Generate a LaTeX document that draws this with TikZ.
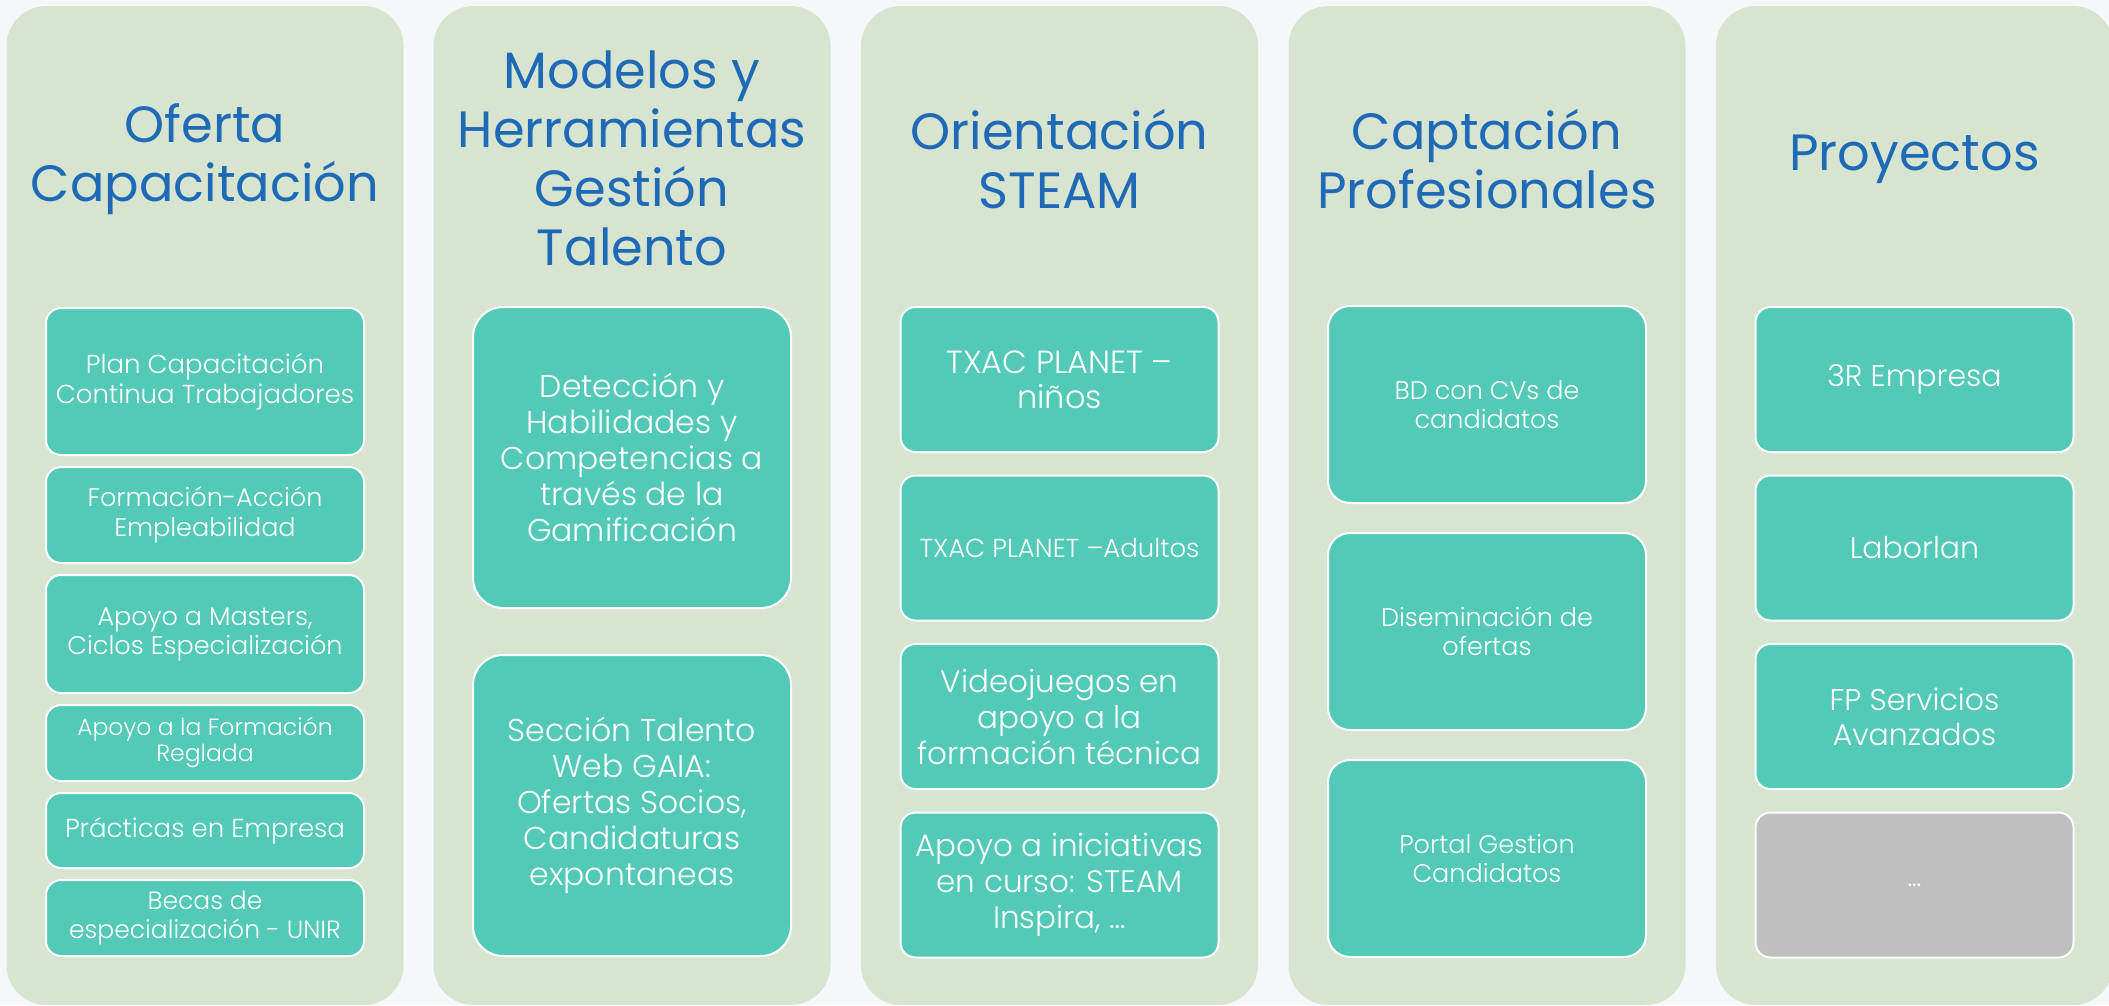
\documentclass[tikz,border=0pt]{standalone}
\usepackage{fontspec}
\setmainfont{Poppins}[UprightFont={* Light}]
\newfontfamily\headfont{Poppins}
\usetikzlibrary{positioning}

\definecolor{bggray}{RGB}{246,247,249}
\definecolor{panelgreen}{RGB}{215,228,208}
\definecolor{itemteal}{RGB}{83,202,183}
\definecolor{itemgray}{RGB}{191,191,191}
\definecolor{titleblue}{RGB}{30,106,182}

\newcommand{\fsz}[2]{\fontsize{#1}{#2}\selectfont}

\tikzstyle{panel} = [rectangle, rounded corners=40pt, fill=panelgreen, minimum width=397pt, minimum height=999pt, inner sep=0pt]
\tikzstyle{title} = [align=center, text=titleblue, font=\headfont\fsz{51}{59}, inner sep=0pt]
\tikzstyle{item} = [rectangle, rounded corners=15pt, draw=white, line width=2pt, fill=itemteal, text=white, align=center, minimum width=318pt, inner sep=0pt, outer sep=0pt]

\begin{document}
\begin{tikzpicture}[x=1pt, y=-1pt, node distance=12pt]
	\useasboundingbox (0,0) rectangle (2109,1005);
	\clip (0,0) rectangle (2109,1005);
	\fill [bggray] (0,0) rectangle (2109,1005);

	% columns
	\node (col1) [panel] at (205,505.5) {};
	\node (col2) [panel] at (632,505.5) {};
	\node (col3) [panel] at (1059.5,505.5) {};
	\node (col4) [panel] at (1487,505.5) {};
	\node (col5) [panel] at (1914.5,505.5) {};

	\node (tit1) [title] at (205,159) {Oferta\\Capacitación};
	\node (tit2) [title] at (632,158) {Modelos y\\Herramientas\\Gestión\\Talento};
	\node (tit3) [title] at (1059.5,159) {Orientación\\STEAM};
	\node (tit4) [title] at (1487,159) {Captación\\Profesionales};
	\node (tit5) [title] at (1914.5,159) {Proyectos};

	% Oferta Capacitacion
	\node (c1a) [item, anchor=north, minimum height=147pt, font=\fsz{26}{30}] at (205,308) {Plan Capacitación\\Continua Trabajadores};
	\node (c1b) [item, below=of c1a, minimum height=96pt, font=\fsz{25.5}{30}] {Formación-Acción\\Empleabilidad};
	\node (c1c) [item, below=of c1b, minimum height=118pt, font=\fsz{25.5}{29}] {Apoyo a Masters,\\Ciclos Especialización};
	\node (c1d) [item, below=of c1c, minimum height=76pt, font=\fsz{23.5}{26}] {Apoyo a la Formación\\Reglada};
	\node (c1e) [item, below=of c1d, minimum height=75pt, font=\fsz{26}{29}] {Prácticas en Empresa};
	\node (c1f) [item, below=of c1e, minimum height=76pt, font=\fsz{25}{29}] {Becas de\\especialización - UNIR};

	% Modelos y Herramientas
	\node (c2a) [item, anchor=north, minimum height=301pt, rounded corners=30pt, font=\fsz{31.5}{36}] at (632,307) {Detección y\\Habilidades y\\Competencias a\\través de la\\Gamificación};
	\node (c2b) [item, below=47pt of c2a, minimum height=301pt, rounded corners=30pt, font=\fsz{31.5}{36}] {Sección Talento\\Web GAIA:\\Ofertas Socios,\\Candidaturas\\expontaneas};

	% Orientacion STEAM
	\node (c3a) [item, anchor=north, minimum height=145pt, font=\fsz{32}{35}] at (1059.5,307) {TXAC PLANET –\\niños};
	\node (c3b) [item, below=23.5pt of c3a, minimum height=145pt, font=\fsz{26}{30}] {TXAC PLANET –Adultos};
	\node (c3c) [item, below=23.5pt of c3b, minimum height=145pt, font=\fsz{31}{36}] {Videojuegos en\\apoyo a la\\formación técnica};
	\node (c3d) [item, below=23.5pt of c3c, minimum height=145pt, font=\fsz{31}{36}] {Apoyo a iniciativas\\en curso: STEAM\\Inspira, …};

	% Captacion Profesionales
	\node (c4a) [item, anchor=north, minimum height=197pt, rounded corners=22pt, font=\fsz{25.5}{29}] at (1487,306) {BD con CVs de\\candidatos};
	\node (c4b) [item, below=30pt of c4a, minimum height=197pt, rounded corners=22pt, font=\fsz{25.5}{29}] {Diseminación de\\ofertas};
	\node (c4c) [item, below=30pt of c4b, minimum height=197pt, rounded corners=22pt, font=\fsz{25.5}{29}] {Portal Gestion\\Candidatos};

	% Proyectos
	\node (c5a) [item, anchor=north, minimum height=145pt, font=\fsz{30}{35}] at (1914.5,307) {3R Empresa};
	\node (c5b) [item, below=23.5pt of c5a, minimum height=145pt, font=\fsz{30}{35}] {Laborlan};
	\node (c5c) [item, below=23.5pt of c5b, minimum height=145pt, font=\fsz{30}{35}] {FP Servicios\\Avanzados};
	\node (c5d) [item, below=23.5pt of c5c, minimum height=145pt, fill=itemgray, font=\fsz{26}{30}] {…};
\end{tikzpicture}
\end{document}
